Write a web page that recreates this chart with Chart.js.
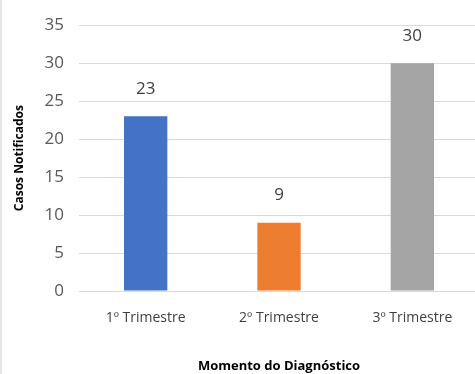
<!DOCTYPE html>
<html>
<head>
<meta charset="utf-8">
<script src="https://cdn.jsdelivr.net/npm/chart.js@4"></script>
<style>
  body { margin: 0; background: #fff; }
  #wrap { width: 475px; height: 374px; overflow: hidden; box-sizing: border-box; border-left: 2px solid #e6e6e6; }
  #inner { width: 481px; height: 374px; position: relative; }
</style>
</head>
<body>
<div id="wrap"><div id="inner"><canvas id="grafico"></canvas></div></div>
<script>
const categorias = ['1º Trimestre', '2º Trimestre', '3º Trimestre'];
const casos = [23, 9, 30];
const cores = ['#4472c4', '#ed7d31', '#a5a5a5'];

const rotulos = {
    id: 'rotulos',
    afterDatasetsDraw(chart) {
        const ctx = chart.ctx;
        ctx.save();
        ctx.font = '17px "Open Sans", sans-serif';
        ctx.fillStyle = '#404040';
        ctx.textAlign = 'center';
        ctx.textBaseline = 'middle';
        chart.getDatasetMeta(0).data.forEach((bar, i) => {
            ctx.fillText(casos[i], bar.x, bar.y - 27);
        });
        ctx.restore();
    }
};

new Chart(document.getElementById('grafico').getContext('2d'), {
    type: 'bar',
    data: { labels: categorias, datasets: [{ data: casos, backgroundColor: cores, barPercentage: 0.65, categoryPercentage: 0.5 }] },
    options: {
        responsive: true,
        maintainAspectRatio: false,
        animation: false,
        layout: { padding: { top: 12, right: 4, left: 8, bottom: 0 } },
        plugins: { legend: { display: false }, tooltip: { enabled: false } },
        scales: {
            x: {
                grid: { display: false },
                border: { display: true, color: '#d9d9d9' },
                ticks: { color: '#404040', font: { size: 14, family: '"Open Sans", sans-serif' }, padding: 11 },
                title: { display: true, text: 'Momento do Diagnóstico', color: '#000', font: { size: 13, weight: 'bold', family: '"Open Sans", sans-serif' }, padding: { top: 22, bottom: 0 } },
                afterFit: s => { s.height = 83; }
            },
            y: {
                min: 0, max: 35,
                ticks: { stepSize: 5, color: '#595959', font: { size: 17, family: '"Open Sans", sans-serif' }, padding: 15 },
                grid: { color: '#d9d9d9', drawTicks: false },
                border: { display: false },
                title: { display: true, text: 'Casos Notificados', color: '#000', font: { size: 12, weight: 'bold', family: '"Open Sans", sans-serif' }, padding: 2 },
                afterFit: s => { s.width = 69; }
            }
        }
    },
    plugins: [rotulos]
});
</script>
</body>
</html>
